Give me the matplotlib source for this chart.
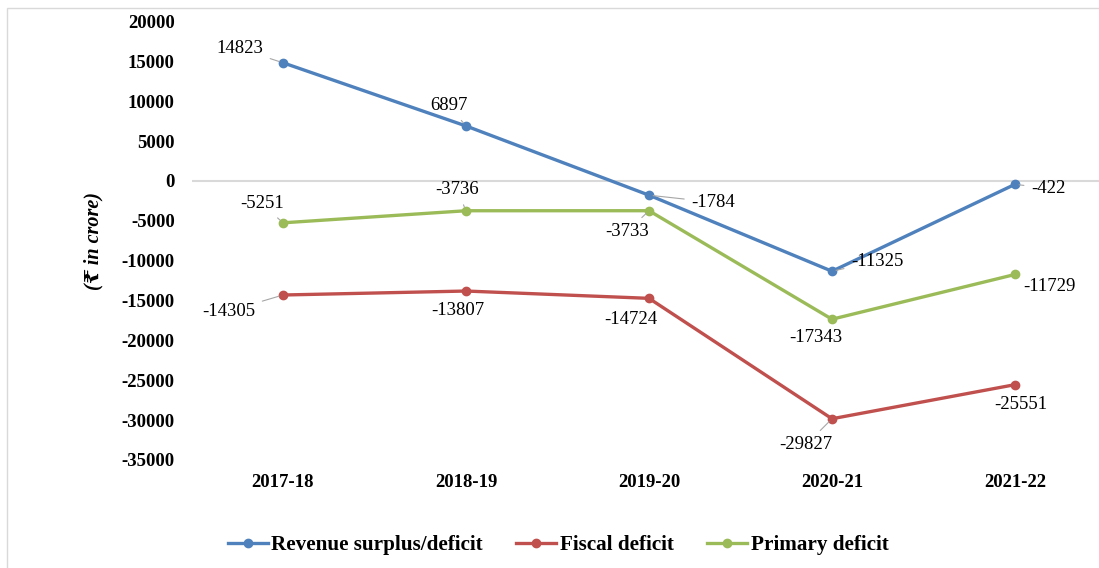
import matplotlib
matplotlib.use('Agg')
import matplotlib.pyplot as plt
from matplotlib.patches import Rectangle

plt.rcParams['font.family'] = ['Liberation Serif', 'DejaVu Serif']
plt.rcParams['axes.unicode_minus'] = False

# data
years = ['2017-18', '2018-19', '2019-20', '2020-21', '2021-22']
revenue = [14823, 6897, -1784, -11325, -422]
fiscal = [-14305, -13807, -14724, -29827, -25551]
primary = [-5251, -3736, -3733, -17343, -11729]

# label offsets in pixels (dx, dy up) and whether a leader line is drawn
rev_off = [(-43, 14), (-17, 20), (64, -7), (45, 10), (33, -4)]
rev_lead = [True, True, True, True, True]
fis_off = [(-54, -16), (-8, -19), (-18, -21), (-26, -26), (6, -20)]
fis_lead = [True, False, False, True, False]
pri_off = [(-21, 19), (-9, 21), (-22, -21), (-16, -18), (34, -12)]
pri_lead = [True, True, True, False, False]

fig = plt.figure(figsize=(10.99, 5.68), dpi=100)
# outer light border of the chart area
fig.patches.append(Rectangle((7 / 1099, -0.1), 1.2, 1.1 - 8 / 568, transform=fig.transFigure,
                             fill=False, edgecolor='#d9d9d9', lw=1))

ax = fig.add_axes([191.5 / 1099, 1 - 460 / 568, 915 / 1099, (460 - 21.5) / 568])
x = list(range(len(years)))

series = [
    (revenue, '#4f81bd', 'Revenue surplus/deficit', rev_off, rev_lead),
    (fiscal, '#c0504d', 'Fiscal deficit', fis_off, fis_lead),
    (primary, '#9bbb59', 'Primary deficit', pri_off, pri_lead),
]

ax.axhline(0, color='#d9d9d9', lw=1.5, zorder=1)
for vals, col, name, offs, leads in series:
    ax.plot(x, vals, color=col, lw=2.4, marker='o', markersize=6, label=name, zorder=3)
    for xi, v, (dx, dy), lead in zip(x, vals, offs, leads):
        ap = None
        if lead:
            ap = dict(arrowstyle='-', color='#a6a6a6', lw=0.8, shrinkA=3, shrinkB=3)
        ax.annotate(str(v), (xi, v), xytext=(dx * 0.72, dy * 0.72), textcoords='offset points',
                    ha='center', va='center', fontsize=13.5, color='black', arrowprops=ap, zorder=4)

ax.set_xlim(-0.5, 4.5)
ax.set_ylim(-35000, 20000)
ax.set_yticks(range(-35000, 20001, 5000))
ax.set_xticks(x)
ax.set_xticklabels(years)
for lab in ax.get_xticklabels() + ax.get_yticklabels():
    lab.set_fontweight('bold')
    lab.set_fontsize(13.5)
ax.tick_params(axis='y', length=0, pad=12)
ax.tick_params(axis='x', length=0, pad=10)
for s in ax.spines.values():
    s.set_visible(False)

ax.set_ylabel('(₹ in crore)', fontsize=14.5, fontweight='bold', fontstyle='italic')
ax.yaxis.set_label_coords(-88 / 915, 0.5)

fig.legend(loc='center', bbox_to_anchor=(558 / 1099, 1 - 545 / 568), ncol=3, frameon=False,
           prop=dict(weight='bold', size=15.2), handlelength=1.9, columnspacing=1.6,
           handletextpad=0.15)

fig.savefig('out.png', dpi=100)
